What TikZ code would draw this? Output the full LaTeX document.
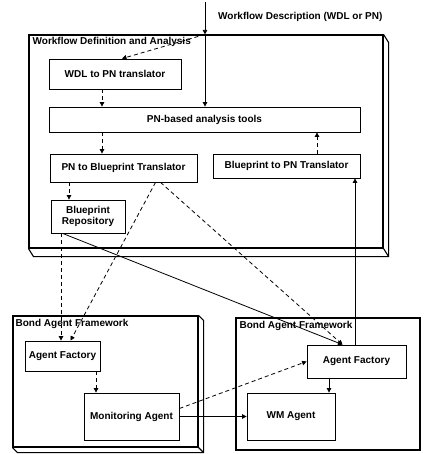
\documentclass[tikz,border=0pt]{standalone}
\usepackage{fontspec}
\setmainfont{Liberation Sans}
\usetikzlibrary{arrows.meta, positioning}

\begin{document}
\begin{tikzpicture}[
        x=1pt, y=-1pt,
        % Style for the framework outlines
        frame/.style={rectangle, draw=black, line width=1.1pt, inner sep=0pt},
        % Style for the component boxes
        compbox/.style={rectangle, draw=black, line width=0.8pt, fill=white, align=center, inner sep=0pt, font=\bfseries\fontsize{10}{11.5}\selectfont},
        % Style for the frame titles
        framelabel/.style={anchor=north west, inner sep=0pt, font=\bfseries\fontsize{10}{11.5}\selectfont},
        % Styles for the connectors
        flow/.style={-{Triangle[length=4.5pt, width=4.5pt]}, line width=0.8pt},
        dflow/.style={flow, dash pattern=on 4pt off 3pt}
    ]
    \useasboundingbox (0,0) rectangle (423,454);

    % --- FRAMES ---
    \node (wfda) [frame, minimum width=354pt, minimum height=213pt] at (206,141.5) {};
    \draw[line width=1.1pt] (wfda.north east) -- ++(5,8) |- ([shift={(5,8)}]wfda.south west) -- (wfda.south west);
    \draw[line width=1.1pt] (wfda.south east) -- ++(5,8);
    \node (wfdatitle) [framelabel] at ([shift={(4,3)}]wfda.north west) {Workflow Definition and Analysis};

    \node (bafl) [frame, minimum width=185pt, minimum height=131pt] at (105.5,381.5) {};
    \draw[line width=1.1pt] (bafl.north east) -- ++(5,5) |- ([shift={(5,5)}]bafl.south west) -- (bafl.south west);
    \draw[line width=1.1pt] (bafl.south east) -- ++(5,5);
    \node (bafltitle) [framelabel] at ([shift={(3,4)}]bafl.north west) {Bond Agent Framework};

    \node (bafr) [frame, minimum width=184pt, minimum height=132pt] at (328,384) {};
    \node (bafrtitle) [framelabel] at ([shift={(4,4)}]bafr.north west) {Bond Agent Framework};

    % --- ANALYSIS COMPONENTS ---
    \node (wdl) [compbox, minimum width=132pt, minimum height=30pt] at (115,74) {WDL to PN translator};
    \node (tools) [compbox, minimum width=311pt, minimum height=25pt] at (204.5,119.5) {PN-based analysis tools};
    \node (pnbp) [compbox, minimum width=147pt, minimum height=28pt] at (123.5,168) {PN to Blueprint Translator};
    \node (bppn) [compbox, minimum width=147pt, minimum height=24pt] at (286.5,166) {Blueprint to PN Translator};
    \node (repo) [compbox, minimum width=74pt, minimum height=33pt] at (88,216.5) {Blueprint\\Repository};

    % --- AGENT COMPONENTS ---
    \node (lfact) [compbox, minimum width=75pt, minimum height=30pt] at (62.5,356) {Agent Factory};
    \node (mon) [compbox, minimum width=95pt, minimum height=47pt] at (131.5,416.5) {Monitoring Agent};
    \node (rfact) [compbox, minimum width=99pt, minimum height=33pt] at (356.5,361.5) {Agent Factory};
    \node (wm) [compbox, minimum width=88pt, minimum height=47pt] at (291,416.5) {WM Agent};

    % --- INPUT ---
    \coordinate (src) at (205,2);
    \node (desc) [anchor=west, inner sep=0pt, font=\bfseries\fontsize{10}{11.5}\selectfont] at (218,17) {Workflow Description (WDL or PN)};

    % column positions of the vertical connectors
    \coordinate (cola) at (102,0);
    \coordinate (colb) at (317,0);
    \coordinate (colc) at (69,0);
    \coordinate (cold) at (61,0);
    \coordinate (cole) at (355,0);
    \coordinate (colf) at (96,0);
    \coordinate (colg) at (329,0);

    % --- CONNECTORS ---
    \draw[flow] (src) -- (src |- wfda.north);
    \draw[flow] (src |- wfda.north) -- (src |- tools.north);
    \draw[dflow] (src |- wfda.north) -- ([xshift=7pt]wdl.north);
    \draw[dflow] (wdl.south -| cola) -- (tools.north -| cola);
    \draw[dflow] (tools.south -| cola) -- (pnbp.north -| cola);
    \draw[dflow] (bppn.north -| colb) -- (tools.south -| colb);
    \draw[dflow] (pnbp.south -| colc) -- (repo.north -| colc);
    \draw[dflow] (repo.south -| cold) -- (lfact.north -| cold);
    \draw[dflow] ([xshift=32pt]pnbp.south) -- ([xshift=8pt]lfact.north);
    \draw[dflow] ([xshift=37pt]pnbp.south) -- ([xshift=-14pt]rfact.north);
    \draw[flow] ([xshift=12pt]repo.south west) -- ([xshift=-14pt]rfact.north);
    \draw[flow] (rfact.north -| cole) -- (bppn.south -| cole);
    \draw[dflow] (lfact.south -| colf) -- (mon.north -| colf);
    \draw[flow] (rfact.south -| colg) -- (wm.north -| colg);
    \draw[flow] (mon.east) -- (wm.west);
    \draw[dflow] ([yshift=8pt]mon.east) -- (rfact.west);

\end{tikzpicture}
\end{document}
